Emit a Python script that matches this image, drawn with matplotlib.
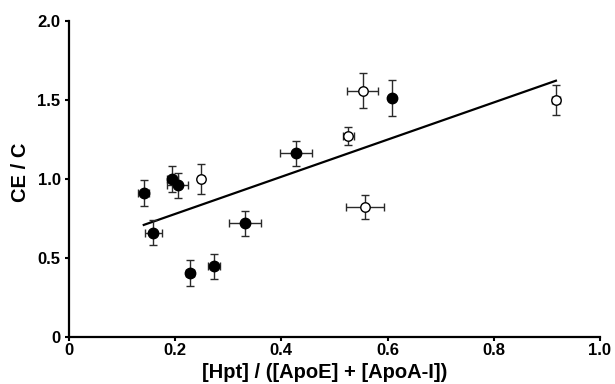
import numpy as np
import matplotlib.pyplot as plt

plt.rcParams['font.family'] = ['Liberation Sans', 'DejaVu Sans']
plt.rcParams['font.weight'] = 'bold'

# filled symbols
x_filled = [0.141, 0.195, 0.205, 0.159, 0.331, 0.228, 0.273, 0.428, 0.608]
y_filled = [0.91, 1.00, 0.96, 0.66, 0.72, 0.407, 0.447, 1.163, 1.513]
xerr_filled = [0.010, 0.010, 0.020, 0.016, 0.030, 0.008, 0.011, 0.030, 0.006]
yerr_filled = [0.082, 0.08, 0.08, 0.08, 0.08, 0.083, 0.08, 0.08, 0.115]

# open symbols
x_open = [0.249, 0.553, 0.526, 0.557, 0.917]
y_open = [1.00, 1.559, 1.272, 0.82, 1.50]
xerr_open = [0.005, 0.029, 0.010, 0.036, 0.008]
yerr_open = [0.093, 0.11, 0.058, 0.076, 0.094]

xticks = [0, 0.2, 0.4, 0.6, 0.8, 1.0]
xticklabels = ['0', '0.2', '0.4', '0.6', '0.8', '1.0']
yticks = [0, 0.5, 1.0, 1.5, 2.0]
yticklabels = ['0', '0.5', '1.0', '1.5', '2.0']

fig = plt.figure(figsize=(6.15, 3.84), dpi=100)
ax = fig.add_axes([0.112, 0.1224, 0.8636, 0.8226])

# linear regression over all points
x_all = np.array(x_filled + x_open)
y_all = np.array(y_filled + y_open)
slope, intercept = np.polyfit(x_all, y_all, 1)
xl = np.array([x_all.min(), x_all.max()])
ax.plot(xl, slope * xl + intercept, color='black', lw=1.6, zorder=2)

ax.errorbar(x_filled, y_filled, xerr=xerr_filled, yerr=yerr_filled, fmt='o',
            color='black', ecolor='#2a2a2a', elinewidth=1.0, capsize=2.7, capthick=1.0,
            markersize=7.5, zorder=3)
ax.errorbar(x_open, y_open, xerr=xerr_open, yerr=yerr_open, fmt='o',
            mfc='white', mec='black', mew=1.0, ecolor='#2a2a2a', elinewidth=1.0,
            capsize=2.7, capthick=1.0, markersize=6.8, zorder=3)

ax.set_xlim(0, 1.0)
ax.set_ylim(0, 2.0)
ax.set_xticks(xticks)
ax.set_xticklabels(xticklabels)
ax.set_yticks(yticks)
ax.set_yticklabels(yticklabels)
ax.tick_params(direction='out', length=3, width=1.5, labelsize=12)
ax.tick_params(axis='x', pad=1)
ax.tick_params(axis='y', pad=3)
for s in ['top', 'right']:
    ax.spines[s].set_visible(False)
for s in ['left', 'bottom']:
    ax.spines[s].set_linewidth(1.6)

ax.set_xlabel('[Hpt] / ([ApoE] + [ApoA-I])', fontsize=14.5, fontweight='bold')
ax.set_ylabel('CE / C', fontsize=14.5, fontweight='bold')
ax.xaxis.set_label_coords(0.482, -0.082)
ax.yaxis.set_label_coords(-0.073, 0.522)

fig.savefig('out.png', dpi=100)
